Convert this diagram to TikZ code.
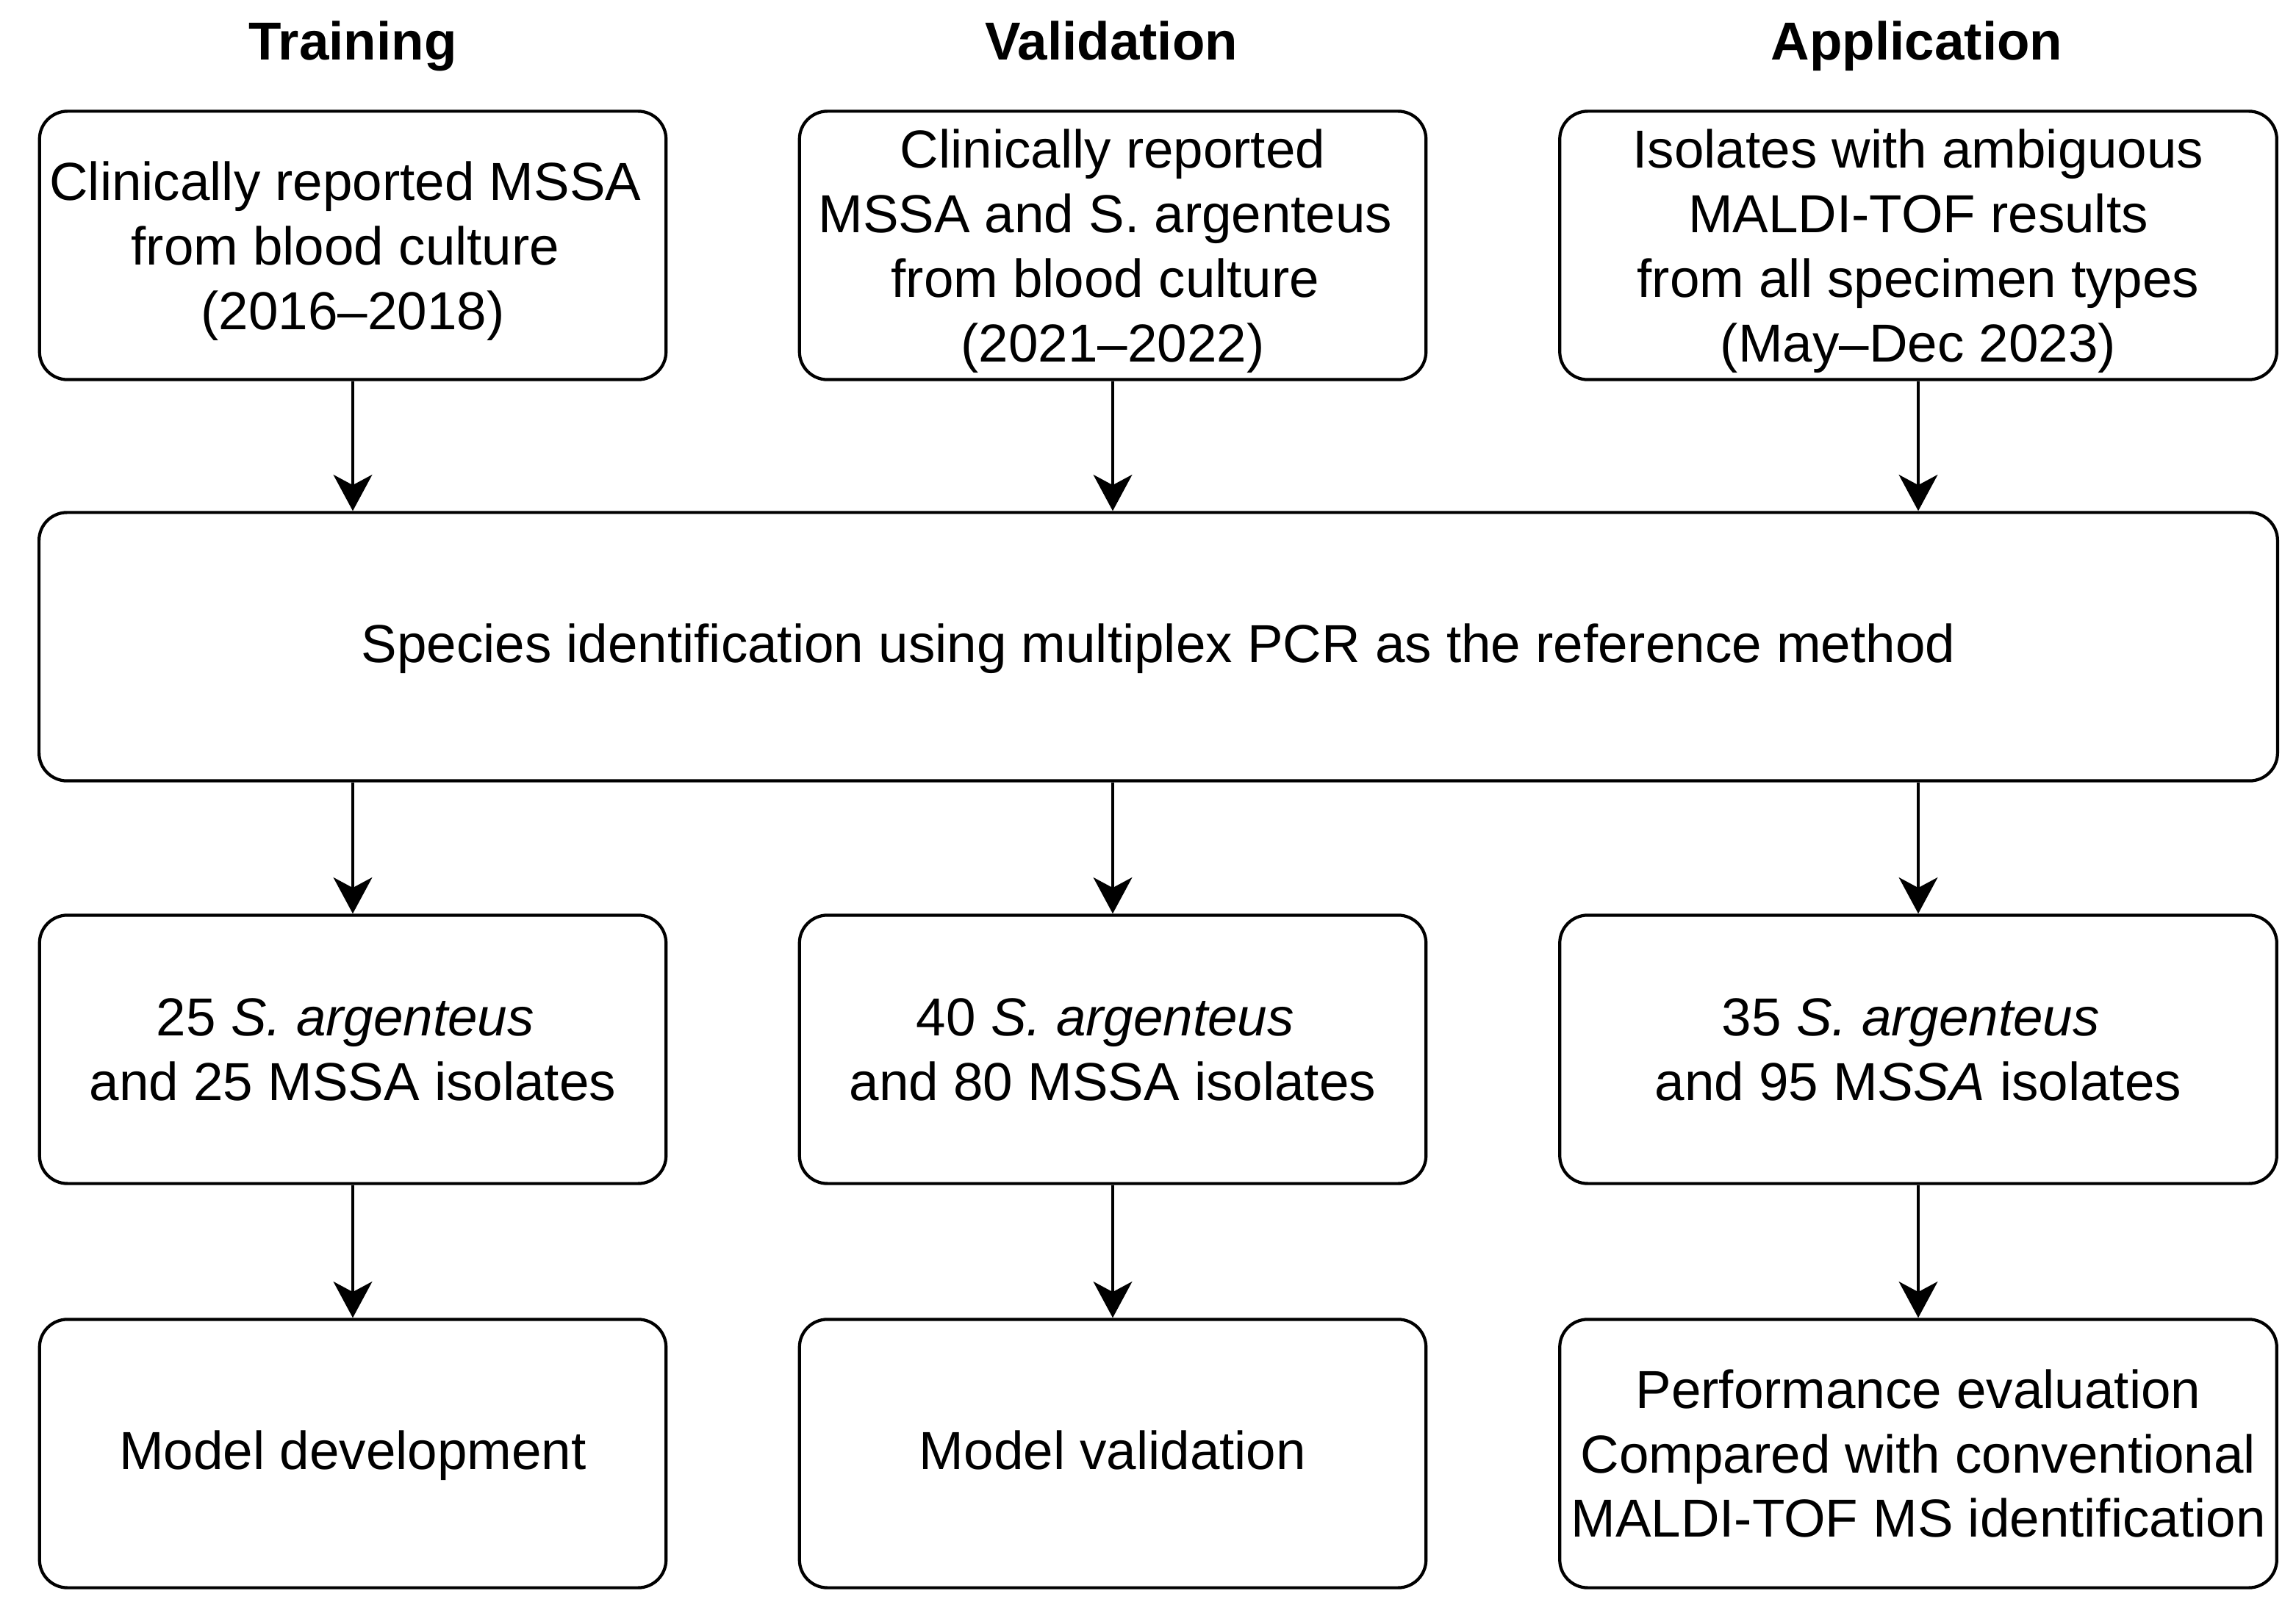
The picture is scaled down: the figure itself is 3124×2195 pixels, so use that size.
\documentclass[tikz,border=0pt]{standalone}
\usepackage{fontspec}
\setmainfont{Liberation Sans}
\usetikzlibrary{arrows.meta}
\newcommand\topgap{\rule{0pt}{19.5pt}}
\newcommand\tsp{\kern.278em}
\begin{document}
\begin{tikzpicture}[x=0.01cm,y=-0.01cm,
  box/.style={draw,line width=1.2pt,rounded corners=0.38cm,align=center,inner sep=0pt,
    minimum height=3.65cm,font=\fontsize{20.7}{25}\selectfont},
  single/.style={execute at begin node={\rule{0pt}{20pt}},execute at end node=\strut},
  head/.style={anchor=base,font=\fontsize{20.7}{25}\selectfont\bfseries},
  arr/.style={-{Stealth[length=14pt,width=15pt,inset=4pt]},line width=1.1pt}]
\useasboundingbox (0,0) rectangle (3124,2195);
\node[head] (htrain) at (480,82) {Training};
\node[head] (hvalid) at (1512,82) {Validation};
\node[head] (happl) at (2608,82) {Application};
\node[box,minimum width=8.52cm] (src1) at (480,334) {\topgap Clinically reported MSSA\tsp\\from blood culture\tsp\\(2016--2018)};
\node[box,minimum width=8.52cm] (src2) at (1514,334) {\topgap Clinically reported\\MSSA and S. argenteus\tsp\\from blood culture\tsp\\(2021--2022)};
\node[box,minimum width=9.75cm] (src3) at (2610,334) {\topgap Isolates with ambiguous\\MALDI-TOF results\\from all specimen types\\(May--Dec 2023)};
\node[box,single,minimum width=30.44cm] (pcr) at (1576,880) {Species identification using multiplex PCR as the reference method};
\node[box,minimum width=8.52cm] (iso1) at (480,1428) {25 \textit{S. argenteus}\tsp\\and 25 MSSA isolates};
\node[box,minimum width=8.52cm] (iso2) at (1514,1428) {40 \textit{S. argenteus}\tsp\\and 80 MSSA isolates};
\node[box,minimum width=9.75cm] (iso3) at (2610,1428) {35 \textit{S. argenteus}\tsp\\and 95 M\textit{SSA} isolates};
\node[box,single,minimum width=8.52cm] (out1) at (480,1978) {Model development};
\node[box,single,minimum width=8.52cm] (out2) at (1514,1978) {Model validation};
\node[box,minimum width=9.75cm] (out3) at (2610,1978) {Performance evaluation\\Compared with conventional\\MALDI-TOF MS identification};
\foreach \i in {1,2,3} {
  \draw[arr] (src\i.south) -- (src\i.south |- pcr.north);
  \draw[arr] (iso\i.north |- pcr.south) -- (iso\i.north);
  \draw[arr] (iso\i.south) -- (out\i.north);
}
\end{tikzpicture}
\end{document}
